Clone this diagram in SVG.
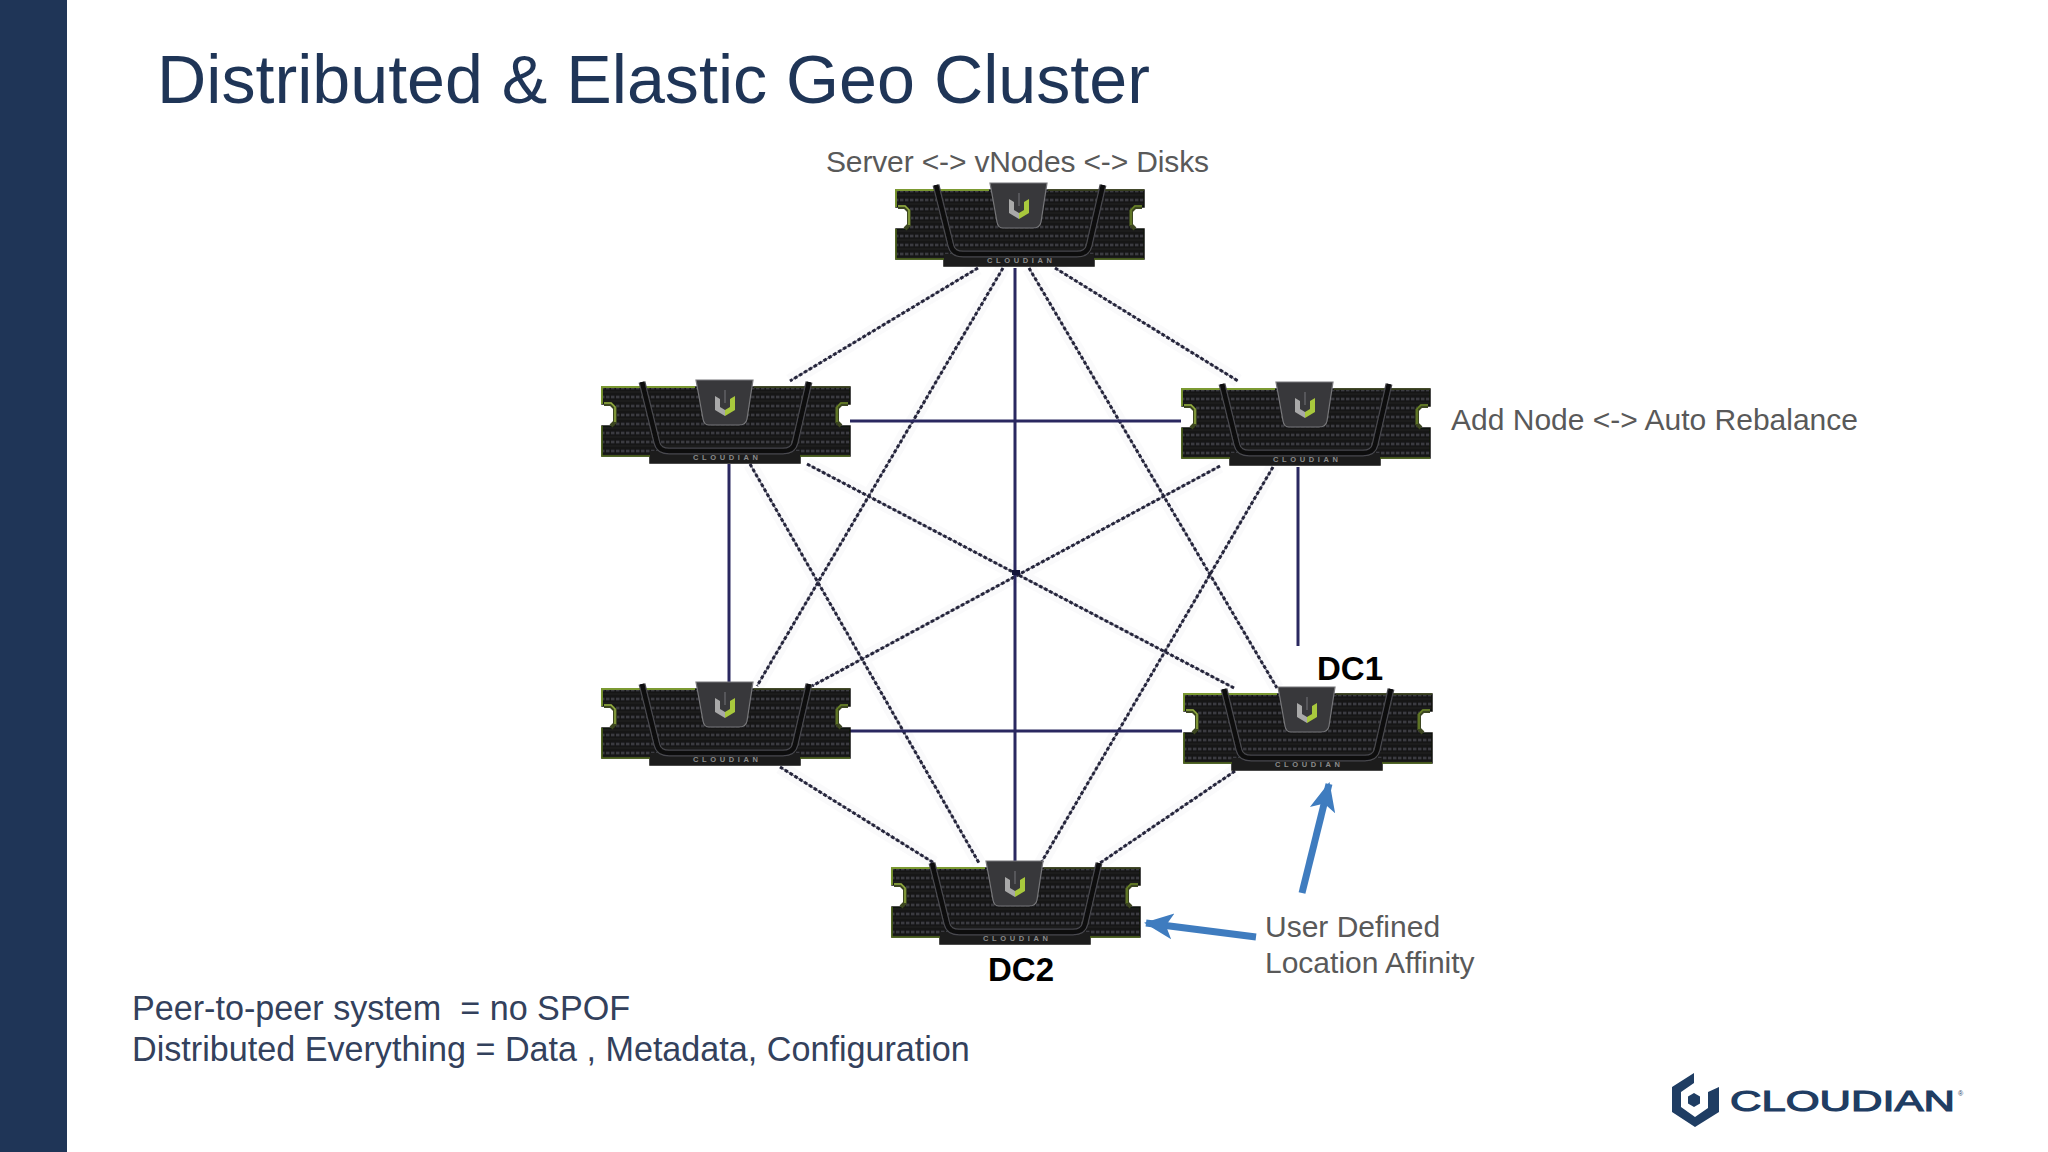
<svg xmlns="http://www.w3.org/2000/svg" width="2048" height="1152" viewBox="0 0 2048 1152">
<style>
text{font-family:"Liberation Sans",Arial,sans-serif;white-space:pre}
.title{font-size:68.2px;fill:#1f3557}
.g{font-size:30px;fill:#595959}
.b{font-size:34.15px;fill:#33415c}
.dc{font-size:33px;font-weight:bold;fill:#000}
.solid{stroke:#2a2860;stroke-width:3;fill:none}
.under{stroke:#77778a;stroke-width:1.4;fill:none}
.dot{stroke:#24243a;stroke-width:3;stroke-dasharray:3.5 2.2;fill:none}
.halo{stroke:#eeeef2;stroke-width:14;fill:none;opacity:.3}
.arr{stroke:#3f7cbf;stroke-width:7;fill:none}
.srv-t{font-size:7.500px;fill:#8b8b8b;font-weight:bold}
</style>
<defs>
<pattern id="mesh" width="5" height="9" patternUnits="userSpaceOnUse">
<rect width="5" height="9" fill="#141416"/>
<path d="M0 3H5" stroke="#3a3b40" stroke-width="2.800" stroke-dasharray="3.500 1.500" fill="none"/>
<path d="M0 7H5" stroke="#1e1e21" stroke-width="1.500" fill="none"/>
</pattern>
<filter id="soft" x="-5%" y="-8%" width="110%" height="116%"><feGaussianBlur stdDeviation="0.7"/></filter>
<marker id="head" viewBox="0 0 30 30" refX="27" refY="15" markerWidth="30" markerHeight="30" markerUnits="userSpaceOnUse" orient="auto"><path d="M0 2L29 15L0 28L7 15Z" fill="#3f7cbf"/></marker>
<g id="server">
<g filter="url(#soft)">
<path d="M1 2H249V19H240L236 23V37L240 41H249V71H199V78H49V71H1V41H10L14 37V23L10 19H1Z" fill="url(#mesh)" stroke="#10120c" stroke-width="1.500"/>
<path d="M1 19V2H94" stroke="#7c9a30" stroke-width="1.800" fill="none"/>
<path d="M153 2H249" stroke="#3f4a20" stroke-width="1.600" fill="none"/>
<path d="M1 41V71H49M199 71H249" stroke="#55701f" stroke-width="1.400" fill="none"/>
<path d="M3 19H10L14 23V37L10 41" stroke="#3c4620" stroke-width="4" fill="none"/>
<path d="M3 18H10L14 22V37" stroke="#94ae40" stroke-width="1.500" fill="none"/>
<path d="M247 19H240L236 23V37L240 41" stroke="#3c4620" stroke-width="4" fill="none"/>
<path d="M247 18H240L236 22V37" stroke="#6a8428" stroke-width="1.500" fill="none"/>
<path d="M49 66H199V78H49Z" fill="#1b1b1d"/>
<path d="M41 -3L56 58Q58 66 68 66H182Q192 66 194 58L208 -3" stroke="#4a4a4e" stroke-width="7" fill="none"/>
<path d="M41 -3L56 58Q58 66 68 66H182Q192 66 194 58L208 -3" stroke="#0b0b0d" stroke-width="4.500" fill="none"/>
<path d="M95 -5H152L146 34Q145 40 138 40H108Q103 40 102 34Z" fill="#38383a" stroke="#77777a" stroke-width="1.200"/>
<path d="M114 11V25L124 31V25L119 22V14Z" fill="#a9a9a9"/>
<path d="M134 11V25L124 31V25L129 22V14Z" fill="#a8c83c"/>
<path d="M124 5V18" stroke="#77777a" stroke-width="1" fill="none"/>
</g>
<text class="srv-t" x="92" y="75" textLength="65">CLOUDIAN</text>
</g>
</defs>
<rect width="2048" height="1152" fill="#ffffff"/>
<rect id="sidebar" width="67" height="1152" fill="#1f3557"/>
<text class="title" x="157" y="103">Distributed &amp; Elastic Geo Cluster</text>
<g id="connectors">
<path class="halo" d="M978 268L790 381M1055 268L1238 381M1003 268L757 686M1029 268L1277 688M807 464L1234 688M1220 466L812 686M750 464L979 863M1273 467L1041 863M780 767L934 863M1235 771L1100 863"/>
<path class="under" d="M978 268L790 381M1055 268L1238 381M1003 268L757 686M1029 268L1277 688M807 464L1234 688M1220 466L812 686M750 464L979 863M1273 467L1041 863M780 767L934 863M1235 771L1100 863"/>
<path class="dot" d="M978 268L790 381M1055 268L1238 381M1003 268L757 686M1029 268L1277 688M807 464L1234 688M1220 466L812 686M750 464L979 863M1273 467L1041 863M780 767L934 863M1235 771L1100 863"/>
<path class="solid" d="M1015 268V862M850 421H1181M729 464V686M1298 467V646M850 731H1182"/>
<rect x="1012" y="570" width="8" height="5" fill="#14143a"/>
<path class="arr" d="M1302 893L1329 784" marker-end="url(#head)"/>
<path class="arr" d="M1256 937L1146 923" marker-end="url(#head)"/>
</g>
<g id="node-top"><use href="#server" x="895" y="188"/></g>
<g id="node-ul"><use href="#server" x="601" y="385"/></g>
<g id="node-ur"><use href="#server" x="1181" y="387"/></g>
<g id="node-ll"><use href="#server" x="601" y="687"/></g>
<g id="node-lr"><use href="#server" x="1183" y="692"/></g>
<g id="node-bottom"><use href="#server" x="891" y="866"/></g>
<text class="g" x="826" y="172" textLength="383">Server &lt;-&gt; vNodes &lt;-&gt; Disks</text>
<text class="g" x="1451" y="430">Add Node &lt;-&gt; Auto Rebalance</text>
<text class="g" x="1265" y="937">User Defined</text>
<text class="g" x="1265" y="973">Location Affinity</text>
<text class="dc" x="1317" y="680">DC1</text>
<text class="dc" x="988" y="981">DC2</text>
<text class="b" x="132" y="1020">Peer-to-peer system  = no SPOF</text>
<text class="b" x="132" y="1061">Distributed Everything = Data , Metadata, Configuration</text>
<g id="logo">
<path d="M1694 1073V1083L1681 1092V1107L1695 1117L1708 1108V1092L1719 1087V1112L1695 1127L1672 1112V1087Z" fill="#1f3d63"/>
<path d="M1694 1093L1700 1096.500V1103.500L1694 1107L1688 1103.500V1096.500Z" fill="#1f3d63"/>
<text x="1730" y="1111" font-size="29" fill="#1f3d63" stroke="#1f3d63" stroke-width="1.100" textLength="225" lengthAdjust="spacingAndGlyphs">CLOUDIAN</text>
<text x="1958" y="1096" font-size="7" fill="#1f3d63">®</text>
</g>
</svg>
